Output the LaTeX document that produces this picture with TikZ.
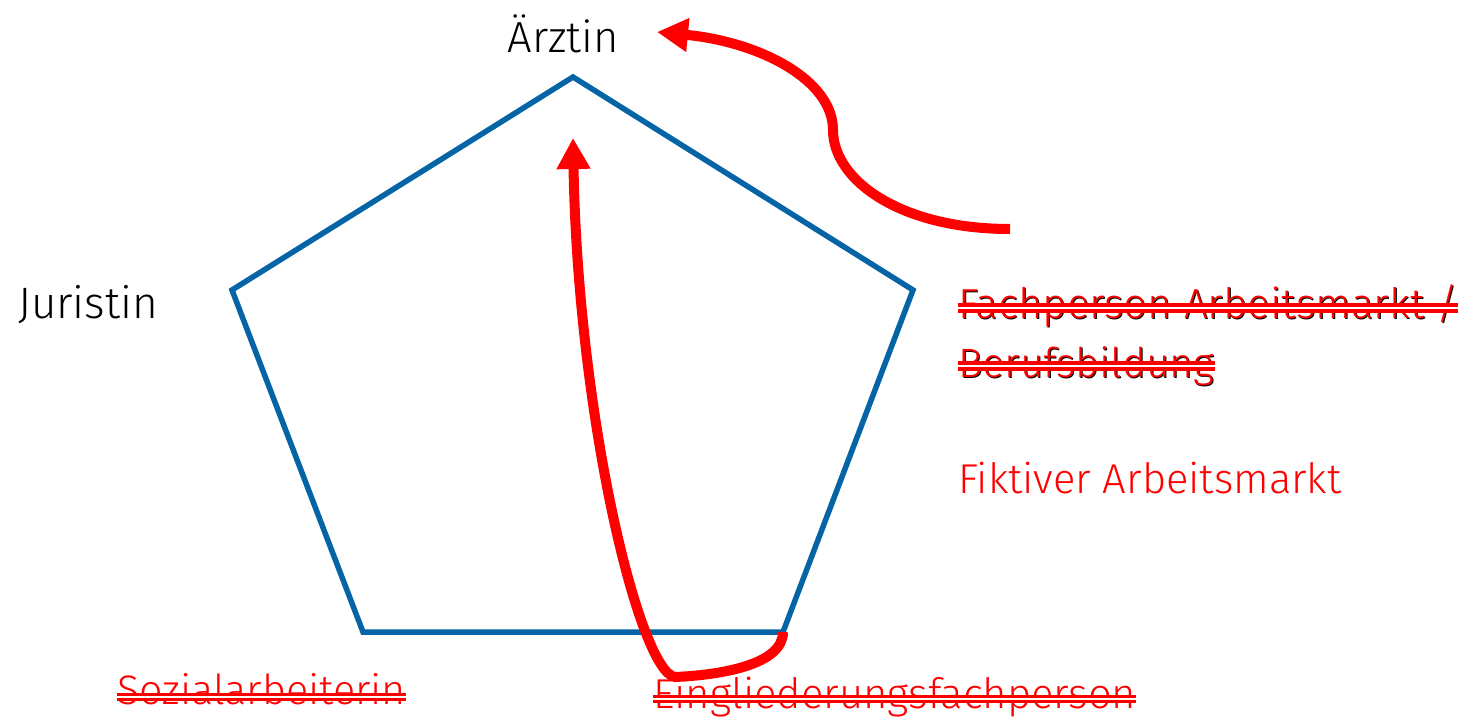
\documentclass[tikz,border=0pt]{standalone}
\usepackage{fontspec}
\setmainfont{Fira Sans Light}
\usetikzlibrary{arrows.meta}
\definecolor{pblue}{RGB}{5,100,166}
\definecolor{pred}{RGB}{255,0,0}
\tikzset{
  lbl/.style={inner sep=0pt, anchor=base west},
  redarrow/.style={draw=pred, line width=10pt, -{Triangle[length=31pt,width=32pt]}},
  strike/.style={draw=pred, line width=3.5pt, double=white, double distance=1.5pt},
}
\begin{document}
\begin{tikzpicture}[x=1pt,y=-1pt]
\useasboundingbox (0,0) rectangle (1466,720);
% pentagon
\coordinate (pT) at (573,77);
\coordinate (pR) at (913,290);
\coordinate (pBR) at (783,632);
\coordinate (pBL) at (363,632);
\coordinate (pL) at (232,290);
\draw[pblue, line width=5.5pt] (pT) -- (pR) -- (pBR) -- (pBL) -- (pL) -- cycle;
% labels
\node[inner sep=0pt, anchor=base] (arzt) at (563,52) {\fontsize{43.5}{50}\selectfont Ärztin};
\node[lbl] (jur) at (18,318) {\fontsize{44}{50}\selectfont Juristin};
\node[lbl, text=black] (fach1b) at (959,319) {\fontsize{42}{50}\selectfont Fachperson Arbeitsmarkt /};
\node[lbl, text=pred] (fach1) at (958,318) {\fontsize{42}{50}\selectfont Fachperson Arbeitsmarkt /};
\node[lbl, text=black] (fach2b) at (959,378) {\fontsize{41}{50}\selectfont Berufsbildung};
\node[lbl, text=pred] (fach2) at (958,377) {\fontsize{41}{50}\selectfont Berufsbildung};
\node[lbl, text=pred] (fikt) at (958,493) {\fontsize{41.7}{50}\selectfont Fiktiver Arbeitsmarkt};
\node[lbl, text=pred] (sozi) at (117,704) {\fontsize{41.3}{46}\selectfont Sozialarbeiterin};
\node[lbl, text=pred] (eing) at (653,708) {\fontsize{41.8}{48}\selectfont Eingliederungsfachperson};
% strikes
\draw[strike, line width=4pt] ([yshift=10pt]fach1.base west) -- ([yshift=10pt]fach1.base east);
\draw[strike, line width=4pt] ([yshift=11pt]fach2.base west) -- ([yshift=11pt]fach2.base east);
\draw[strike] ([yshift=7pt]sozi.base west) -- ([yshift=7pt]sozi.base east);
\draw[strike] ([yshift=9pt]eing.base west) -- ([yshift=9pt]eing.base east);
% arrows
\coordinate (a1s) at (1010,229);
\coordinate (a1e) at (657,32);
\draw[redarrow] (a1s) .. controls (900,229) and (833,180) .. (833,130)
  .. controls (833,80) and (760,42) .. (a1e);
\coordinate (a2e) at (573,138);
\draw[redarrow] (pBR) .. controls (783,665) and (720,675) .. (675,677)
  .. controls (640,672) and (578,420) .. (a2e);
\end{tikzpicture}
\end{document}
